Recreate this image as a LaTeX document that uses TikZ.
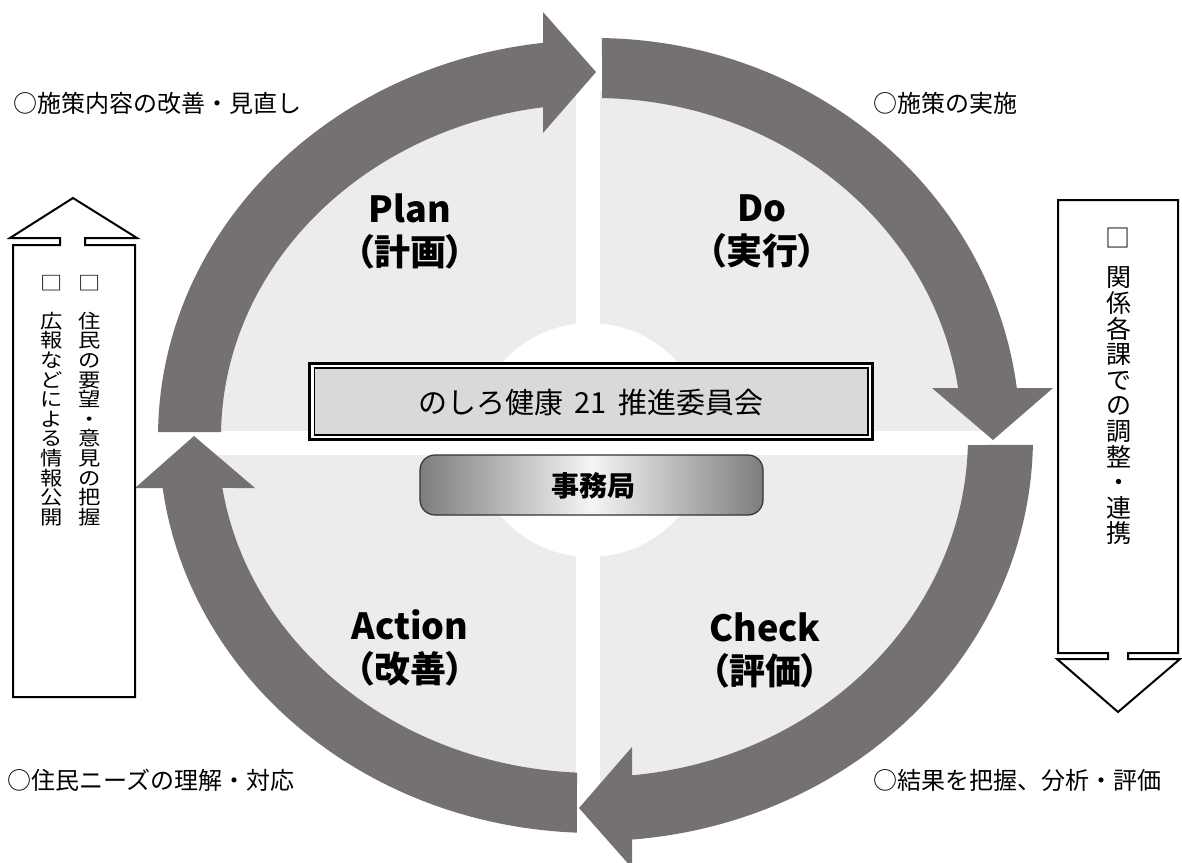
\documentclass[tikz,border=0pt]{standalone}
\usepackage{fontspec}
\newfontfamily\jp{Noto Sans CJK JP}
\newfontfamily\jpp[RawFeature=+palt]{Noto Sans CJK JP}
\newfontfamily\jpwide[FakeStretch=1.15]{Noto Sans CJK JP}
\usetikzlibrary{calc}
\definecolor{arrowc}{RGB}{117,113,112}
\definecolor{quadc}{RGB}{236,236,236}
\definecolor{boxfill}{RGB}{217,217,217}
\definecolor{jimudark}{RGB}{125,125,125}
\definecolor{jimulight}{RGB}{245,245,245}
\begin{document}
\begin{tikzpicture}[x=1pt,y=1pt,
  arrowband/.style={fill=arrowc},
  pdca/.style={font=\jpp\bfseries\fontsize{36pt}{43pt}\selectfont, align=center, inner sep=0pt},
  note/.style={font=\jp\fontsize{24pt}{28pt}\selectfont, anchor=west, inner sep=0pt},
  vtxtL/.style={font=\jpwide\fontsize{19.4pt}{19.6pt}\selectfont, align=center, inner sep=0pt},
  vtxtR/.style={font=\jp\fontsize{25pt}{25.6pt}\selectfont, align=center, inner sep=0pt},
  callout/.style={draw=black, line width=2pt, fill=white, line join=miter},
]
\useasboundingbox (0,0) rectangle (1182,-862);
\clip (0,0) rectangle (1182,-862);
\coordinate (C) at (595,-437);
\coordinate (G) at (588,-443);
\coordinate (W) at (590,-440);

% light grey quadrants
\fill[quadc] (G) ellipse[x radius=395, y radius=352];
\fill[white] (576,-60) rectangle (600,-830);
\fill[white] (150,-431) rectangle (1040,-455);
\fill[white] (W) circle[radius=117];

% Plan arrow
\fill[arrowband] ($(C)+(179.28:437 and 397)$) arc[start angle=179.28, end angle=96.83, x radius=437, y radius=397]
  -- (543,-12) -- (596,-72) -- (543,-133)
  -- ($(C)+(97.99:374 and 333)$) arc[start angle=97.99, end angle=179.14, x radius=374, y radius=333] -- cycle;
% Do arrow
\fill[arrowband] ($(C)+(89.06:425 and 399)$) arc[start angle=89.06, end angle=7.05, x radius=425, y radius=399]
  -- (1053,-388) -- (993,-440) -- (932,-388)
  -- ($(C)+(8.31:367 and 339)$) arc[start angle=8.31, end angle=88.9, x radius=367, y radius=339] -- cycle;
% Check arrow
\fill[arrowband] ($(C)+(-1.13:438 and 404)$) arc[start angle=-1.13, end angle=-85.15, x radius=438, y radius=404]
  -- (632,-868) -- (579,-808) -- (632,-747)
  -- ($(C)+(-84.3:373 and 340)$) arc[start angle=-84.3, end angle=-1.35, x radius=373, y radius=340] -- cycle;
% Action arrow
\fill[arrowband] ($(C)+(267.6:436 and 396)$) arc[start angle=267.6, end angle=187.4, x radius=436, y radius=396]
  -- (135,-488) -- (194,-436) -- (255,-488)
  -- ($(C)+(188.73:377 and 336)$) arc[start angle=188.73, end angle=267.27, x radius=377, y radius=336] -- cycle;

% PDCA labels
\node[pdca] (plan) at (410,-231) {Plan\\（計画）};
\node[pdca] (do) at (762,-231) {Do\\（実行）};
\node[pdca] (check) at (765,-650) {Check\\（評価）};
\node[pdca] (action) at (410,-648) {Action\\（改善）};

% committee box
\node[minimum width=562pt, minimum height=76pt, inner sep=0pt] (iinkai) at (591,-401.5) {};
\draw[line width=3pt, fill=white] (iinkai.north west) rectangle (iinkai.south east);
\draw[line width=1.6pt, fill=boxfill] ($(iinkai.north west)+(4.5,-4.5)$) rectangle ($(iinkai.south east)+(-4.5,4.5)$);
\node[font=\jp\fontsize{29pt}{32pt}\selectfont, inner sep=0pt] (iinkaitext) at (591,-403) {のしろ健康\hspace{11pt}21\hspace{11pt}推進委員会};

% secretariat
\node[draw=black!80, line width=1.2pt, rounded corners=15pt, minimum width=343pt, minimum height=60pt,
      left color=jimudark, right color=jimudark, middle color=jimulight, inner sep=0pt] (jimu) at (591.5,-485) {};
\node[font=\jp\bfseries\fontsize{28pt}{30pt}\selectfont, inner sep=0pt] (jimutext) at (593,-486) {事務局};

% side notes
\node[note] (n1) at (13,-103) {○施策内容の改善・見直し};
\node[note] (n2) at (873,-103) {○施策の実施};
\node[note] (n3) at (7,-780) {○住民ニーズの理解・対応};
\node[note] (n4) at (873,-780) {○結果を把握、分析・評価};

% left up-arrow callout
\draw[callout] (13,-697) -- (13,-245) -- (60,-245) -- (60,-238) -- (10,-238) -- (73,-198)
  -- (137,-238) -- (85,-238) -- (85,-245) -- (135,-245) -- (135,-697) -- cycle;
\node[vtxtL] (lsqR) at (90,-283) {□};
\node[vtxtL] (lsqL) at (52,-283) {□};
\node[vtxtL] (lcolR) at (90,-419) {住\\民\\の\\要\\望\\・\\意\\見\\の\\把\\握};
\node[vtxtL] (lcolL) at (52,-419) {広\\報\\な\\ど\\に\\よ\\る\\情\\報\\公\\開};

% right down-arrow callout
\draw[callout] (1058,-200) -- (1178,-200) -- (1178,-653) -- (1128,-653) -- (1128,-659) -- (1180,-659)
  -- (1118,-712) -- (1057,-659) -- (1108,-659) -- (1108,-653) -- (1058,-653) -- cycle;
\node[vtxtR] (rsq) at (1118,-238) {□};
\node[vtxtR] (rcol) at (1119,-406) {関\\係\\各\\課\\で\\の\\調\\整\\・\\連\\携};
\end{tikzpicture}
\end{document}
